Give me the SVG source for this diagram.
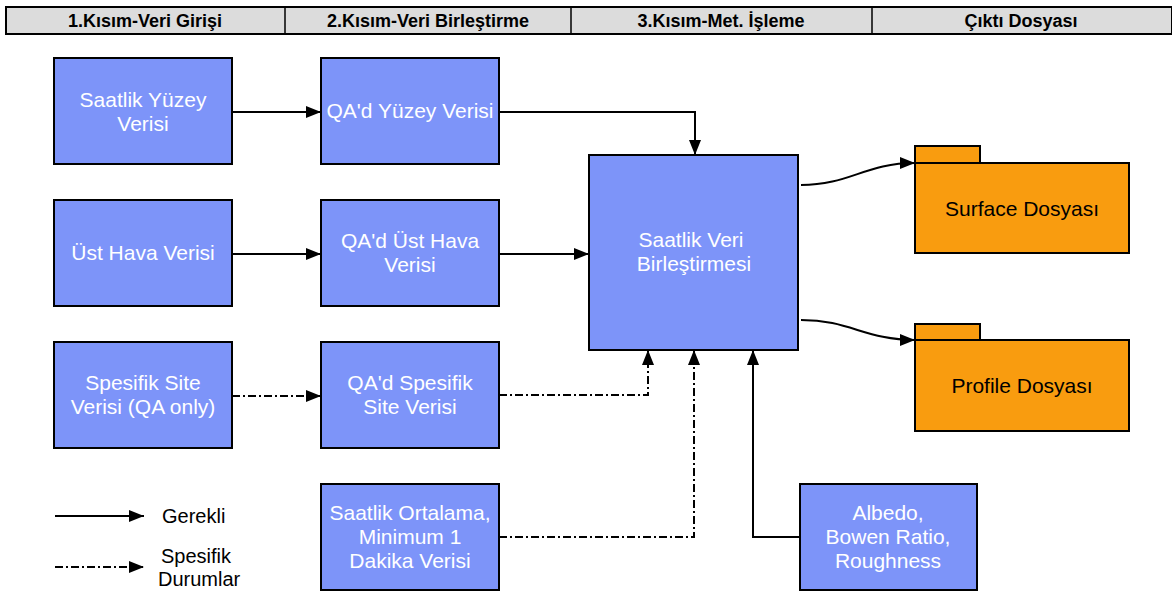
<svg xmlns="http://www.w3.org/2000/svg" width="1172" height="594" viewBox="0 0 1172 594">
<style>
.hdr{fill:#dcdcdc;stroke:#000;stroke-width:2}
.hdt{font-family:"Liberation Sans",Arial,sans-serif;font-weight:bold;font-size:18px;fill:#000;text-anchor:middle}
.box{fill:#7d94f9;stroke:#000;stroke-width:2}
.bt{font-family:"Liberation Sans",Arial,sans-serif;font-size:21px;fill:#fff;text-anchor:middle}
.fold{fill:#f99c0f;stroke:#000;stroke-width:2}
.ft{font-family:"Liberation Sans",Arial,sans-serif;font-size:21px;fill:#000;text-anchor:middle}
.lt{font-family:"Liberation Sans",Arial,sans-serif;font-size:20px;fill:#000}
.c{fill:none;stroke:#000;stroke-width:2}
.d{fill:none;stroke:#000;stroke-width:2;stroke-dasharray:8,3,2,3}
</style>
<defs>
<marker id="ah" viewBox="0 0 15 12" refX="15" refY="6" markerWidth="15" markerHeight="12" markerUnits="userSpaceOnUse" orient="auto">
<path d="M0,0 L15,6 L0,12 z" fill="#000"/>
</marker>
</defs>
<g id="header">
<rect class="hdr" x="6" y="7" width="1166" height="27"/>
<line x1="285" y1="7" x2="285" y2="34" stroke="#000" stroke-width="1.5"/>
<line x1="571" y1="7" x2="571" y2="34" stroke="#000" stroke-width="1.5"/>
<line x1="872" y1="7" x2="872" y2="34" stroke="#000" stroke-width="1.5"/>
<text class="hdt" x="145" y="27">1.Kısım-Veri Girişi</text>
<text class="hdt" x="428" y="27">2.Kısım-Veri Birleştirme</text>
<text class="hdt" x="721" y="27">3.Kısım-Met. İşleme</text>
<text class="hdt" x="1021" y="27">Çıktı Dosyası</text>
</g>
<g id="connectors">
<line class="c" x1="232" y1="112" x2="321" y2="112" marker-end="url(#ah)"/>
<line class="c" x1="232" y1="254" x2="321" y2="254" marker-end="url(#ah)"/>
<line class="d" x1="232" y1="396" x2="321" y2="396" marker-end="url(#ah)"/>
<polyline class="c" points="499,112 695,112 695,155" marker-end="url(#ah)"/>
<line class="c" x1="499" y1="254" x2="589" y2="254" marker-end="url(#ah)"/>
<polyline class="d" points="499,395 648,395 648,350" marker-end="url(#ah)"/>
<polyline class="d" points="499,537 694,537 694,350" marker-end="url(#ah)"/>
<polyline class="c" points="800,537 753,537 753,350" marker-end="url(#ah)"/>
<path class="c" d="M801,185 C850,185 865,163 915,163" marker-end="url(#ah)"/>
<path class="c" d="M801,320 C850,320 865,340 915,340" marker-end="url(#ah)"/>
</g>
<g id="n1"><rect class="box" x="54" y="58" width="178" height="106"/><text class="bt" x="143" y="107">Saatlik Yüzey</text><text class="bt" x="143" y="131">Verisi</text></g>
<g id="n2"><rect class="box" x="54" y="200" width="178" height="106"/><text class="bt" x="143" y="260">Üst Hava Verisi</text></g>
<g id="n3"><rect class="box" x="54" y="342" width="178" height="106"/><text class="bt" x="143" y="390">Spesifik Site</text><text class="bt" x="143" y="414">Verisi (QA only)</text></g>
<g id="n4"><rect class="box" x="321" y="58" width="178" height="106"/><text class="bt" x="410" y="118">QA'd Yüzey Verisi</text></g>
<g id="n5"><rect class="box" x="321" y="200" width="178" height="106"/><text class="bt" x="410" y="248">QA'd Üst Hava</text><text class="bt" x="410" y="272">Verisi</text></g>
<g id="n6"><rect class="box" x="321" y="342" width="178" height="106"/><text class="bt" x="410" y="390">QA'd Spesifik</text><text class="bt" x="410" y="414">Site Verisi</text></g>
<g id="n7"><rect class="box" x="321" y="484" width="178" height="106"/><text class="bt" x="410" y="520">Saatlik Ortalama,</text><text class="bt" x="410" y="544">Minimum 1</text><text class="bt" x="410" y="568">Dakika Verisi</text></g>
<g id="n8"><rect class="box" x="589" y="155" width="209" height="195"/><text class="bt" x="691" y="247">Saatlik Veri</text><text class="bt" x="694" y="271">Birleştirmesi</text></g>
<g id="n9"><rect class="box" x="800" y="484" width="177" height="106"/><text class="bt" x="888" y="520">Albedo,</text><text class="bt" x="888" y="544">Bowen Ratio,</text><text class="bt" x="888" y="568">Roughness</text></g>
<g id="f1"><rect class="fold" x="915" y="146" width="65" height="17"/><rect class="fold" x="915" y="163" width="214" height="90"/><text class="ft" x="1022" y="216">Surface Dosyası</text></g>
<g id="f2"><rect class="fold" x="915" y="324" width="65" height="16"/><rect class="fold" x="915" y="340" width="214" height="91"/><text class="ft" x="1022" y="393">Profile Dosyası</text></g>
<g id="legend">
<line class="c" x1="55" y1="516" x2="144" y2="516" marker-end="url(#ah)"/>
<line class="d" x1="55" y1="567" x2="144" y2="567" marker-end="url(#ah)"/>
<text class="lt" x="162" y="523">Gerekli</text>
<text class="lt" x="161" y="563">Spesifik</text>
<text class="lt" x="158" y="586">Durumlar</text>
</g>
</svg>
